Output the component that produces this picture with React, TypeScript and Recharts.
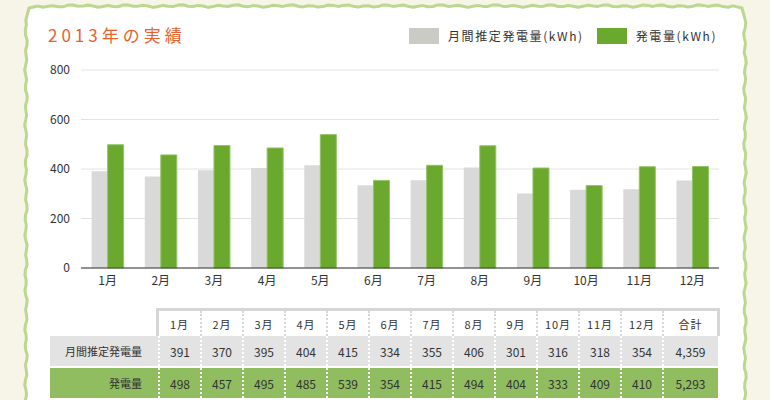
import React from 'react'
import { Bar, BarChart, CartesianGrid, XAxis, YAxis } from 'recharts'

const months = ['1月', '2月', '3月', '4月', '5月', '6月', '7月', '8月', '9月', '10月', '11月', '12月']
const estimated = [391, 370, 395, 404, 415, 334, 355, 406, 301, 316, 318, 354]
const actual = [498, 457, 495, 485, 539, 354, 415, 494, 404, 333, 409, 410]
const yTicks = [0, 200, 400, 600, 800]
const seriesNames = ['月間推定発電量(kWh)', '発電量(kWh)']
const rowLabels = ['月間推定発電量', '発電量']
const totals = ['4,359', '5,293']

const data = months.map((m, i) => ({ name: m, est: estimated[i], act: actual[i] }))

const FONT = '"Noto Sans CJK JP", "Noto Sans", sans-serif'

// wobbly frame around the panel
const wavyPath = () => {
  const x0 = 26, y0 = 6, x1 = 745, y1 = 420, r = 12
  const pts: string[] = []
  const wob = (k: number) => Math.sin(k * 1.7) * 0.9 + Math.sin(k * 0.6) * 0.5
  let k = 0
  for (let x = x0 + r; x <= x1 - r; x += 5) pts.push(`${x},${(y0 + wob(k++)).toFixed(1)}`)
  pts.push(`${x1 - 3},${y0 + 2}`)
  for (let y = y0 + r; y <= y1; y += 5) pts.push(`${(x1 + wob(k++)).toFixed(1)},${y}`)
  const left: string[] = []
  for (let y = y1; y >= y0 + r; y -= 5) left.push(`${(x0 + wob(k++)).toFixed(1)},${y}`)
  left.push(`${x0 + 3},${y0 + 2}`)
  return 'M' + pts.join(' L') + ' M' + left.join(' L') + ` L${x0 + r},${y0}`
}

const LegendBox = () => (
  <div style={{ position: 'absolute', left: 409, top: 28, display: 'flex', alignItems: 'center', fontFamily: FONT, fontSize: 12, color: '#333', lineHeight: '16px' }}>
    <span style={{ width: 30, height: 16, background: '#c9cbc4', display: 'inline-block', marginRight: 9 }} />
    <span style={{ marginRight: 13, letterSpacing: 1.6 }}>{seriesNames[0]}</span>
    <span style={{ width: 30, height: 16, background: '#6aa82e', display: 'inline-block', marginRight: 9 }} />
    <span style={{ letterSpacing: 1.6 }}>{seriesNames[1]}</span>
  </div>
)

const cellBase: React.CSSProperties = {
  boxSizing: 'border-box',
  height: '100%',
  display: 'flex',
  alignItems: 'center',
  justifyContent: 'center',
}

const colW = (i: number) => (i === 12 ? 55 : 42)

const Table = () => {
  const header = [...months, '合計']
  const rows = [
    { label: rowLabels[0], vals: [...estimated.map(String), totals[0]], bg: '#e3e3e3' },
    { label: rowLabels[1], vals: [...actual.map(String), totals[1]], bg: '#8fbd5f' },
  ]
  return (
    <div style={{ position: 'absolute', left: 50, top: 308, fontFamily: FONT, fontSize: 11, color: '#333' }}>
      <div style={{ display: 'flex', height: 28 }}>
        <div style={{ width: 108 }} />
        <div style={{ display: 'flex', borderTop: '3px solid #d6d6d6', borderLeft: '3px solid #d6d6d6', borderRight: '3px solid #d6d6d6', background: '#fff', marginLeft: -2 }}>
          {header.map((h, i) => (
            <div key={h} style={{ ...cellBase, width: colW(i) - (i === 0 ? 1 : 0), borderLeft: i === 0 ? 'none' : '2px dotted #d6d6d6', letterSpacing: 1 }}>{h}</div>
          ))}
        </div>
      </div>
      {rows.map((r, ri) => (
        <div key={r.label} style={{ display: 'flex', height: 30, background: r.bg, marginTop: ri === 1 ? 2 : 0, width: 668 }}>
          <div style={{ ...cellBase, width: 108, justifyContent: 'flex-end', paddingRight: 16 }}>{r.label}</div>
          {r.vals.map((v, i) => (
            <div key={i} style={{ ...cellBase, width: colW(i), borderLeft: '2px dotted #fff', fontSize: 12 }}>{v}</div>
          ))}
        </div>
      ))}
    </div>
  )
}

export default function App() {
  return (
    <div style={{ position: 'absolute', left: 0, top: 0, width: 770, height: 400, overflow: 'hidden', background: '#f7f5e8' }}>
      <div style={{ position: 'absolute', left: 27, top: 7, width: 717, height: 420, background: '#fff', borderRadius: 12 }} />
      <svg width={770} height={400} style={{ position: 'absolute', left: 0, top: 0 }}>
        <path d={wavyPath()} fill="none" stroke="#bcd890" strokeWidth={3} strokeLinejoin="round" />
      </svg>
      <div style={{ position: 'absolute', left: 48, top: 22, fontFamily: FONT, fontSize: 17, color: '#e8602c', letterSpacing: 4 }}>
        2013年の実績
      </div>
      <LegendBox />
      <div style={{ position: 'absolute', left: 0, top: 0 }}>
        <BarChart width={770} height={300} data={data} margin={{ top: 70, right: 51, bottom: 0, left: 41 }} barCategoryGap="20%" barGap={0}>
          <CartesianGrid vertical={false} stroke="#e2e2e2" />
          <XAxis dataKey="name" tickLine={false} axisLine={{ stroke: '#333' }} height={32} tick={{ fill: '#333', fontSize: 12, fontFamily: FONT }} />
          <YAxis domain={[0, 800]} ticks={yTicks} width={40} axisLine={false} tickLine={false} tickMargin={5} tick={{ fill: '#333', fontSize: 12, fontFamily: FONT }} />
          <Bar dataKey="est" name={seriesNames[0]} fill="#d9d9d9" isAnimationActive={false} />
          <Bar dataKey="act" name={seriesNames[1]} fill="#6aa82e" stroke="#93c466" strokeWidth={1} isAnimationActive={false} />
        </BarChart>
      </div>
      <Table />
    </div>
  )
}
